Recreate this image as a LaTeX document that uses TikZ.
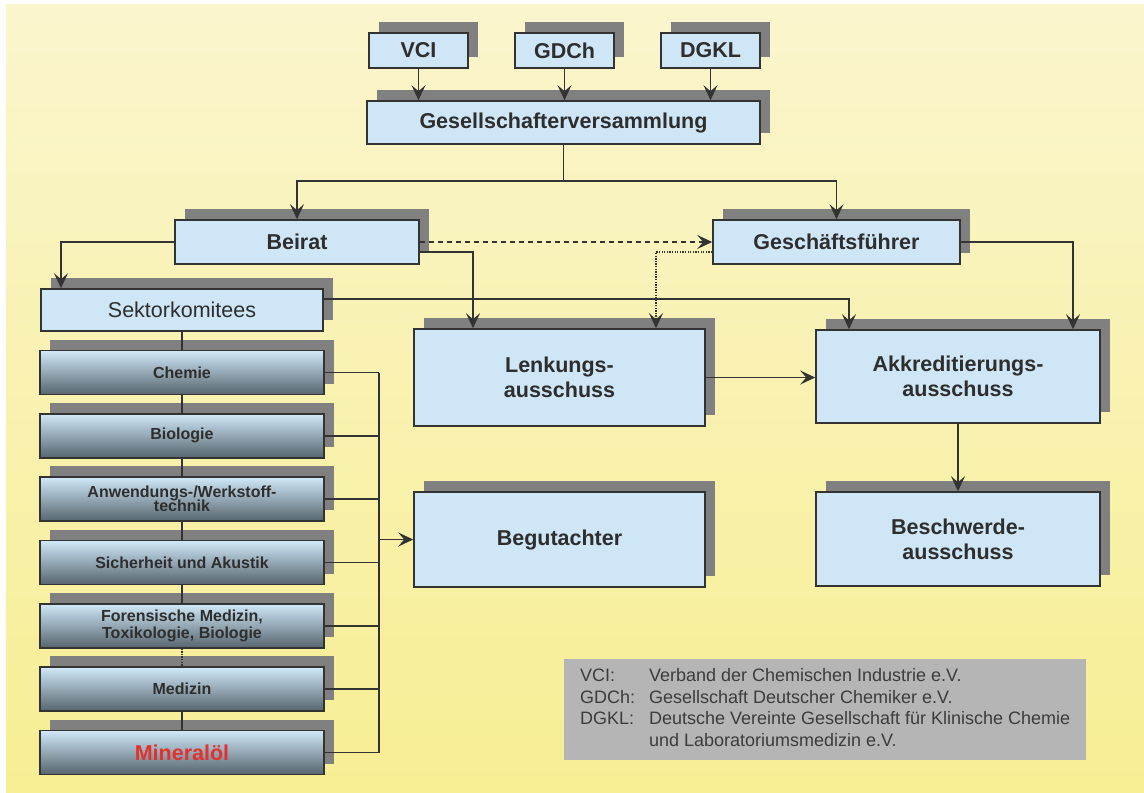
\documentclass[tikz,border=0pt]{standalone}
\usepackage{fontspec}
\setmainfont{Liberation Sans}
\usetikzlibrary{arrows.meta,positioning,shadows,calc}

\definecolor{bgtop}{RGB}{250,245,205}
\definecolor{bgbot}{RGB}{247,238,147}
\definecolor{boxblue}{RGB}{207,230,246}
\definecolor{sectop}{RGB}{208,232,248}
\definecolor{secmid}{RGB}{160,182,196}
\definecolor{secbot}{RGB}{86,100,110}
\definecolor{shadowgray}{RGB}{128,128,128}
\definecolor{framegray}{RGB}{51,51,51}
\definecolor{linegray}{RGB}{51,51,51}
\definecolor{textgray}{RGB}{46,46,46}
\definecolor{legendgray}{RGB}{180,181,180}
\definecolor{legendtext}{RGB}{60,60,60}
\definecolor{minered}{RGB}{229,49,43}

\begin{document}
\begin{tikzpicture}[x=1pt, y=-1pt,
    box/.style={draw=framegray, line width=1.6pt, fill=boxblue, text=textgray, inner sep=0pt, align=center,
      font=\bfseries\fontsize{21.5}{25}\selectfont,
      drop shadow={shadow xshift=10pt, shadow yshift=11pt, fill=shadowgray, opacity=1}},
    sector/.style={box, top color=sectop, middle color=secmid, bottom color=secbot, minimum width=284pt, minimum height=44pt,
      font=\bfseries\fontsize{16}{16}\selectfont},
    conn/.style={draw=linegray, line width=1.4pt},
    arr/.style={conn, -{Stealth[length=15pt, width=14pt, inset=6pt]}}]
  \useasboundingbox (0,0) rectangle (1144,793);
  \fill [top color=bgtop, bottom color=bgbot] (6,4) rectangle (1144,793);

  % members and board
  \node (vci) [box, minimum width=99pt, minimum height=35pt] at (418.5,50.5) {VCI};
  \node (gdch) [box, minimum width=99pt, minimum height=35pt] at (564.5,50.5) {GDCh};
  \node (dgkl) [box, minimum width=99pt, minimum height=35pt] at (710.5,50.5) {DGKL};
  \node (gv) [box, minimum width=393pt, minimum height=43pt] at (563.5,122.5) {Gesellschafterversammlung};
  \node (beirat) [box, minimum width=244pt, minimum height=44pt] at (297,242) {Beirat};
  \node (gf) [box, minimum width=247pt, minimum height=44pt] at (836.5,242) {Geschäftsführer};
  \node (sk) [box, minimum width=282pt, minimum height=42pt, font=\fontsize{21.5}{25}\selectfont] at (182,310) {Sektorkomitees};
  \node (lenk) [box, minimum width=291pt, minimum height=97pt] at (559.5,377.5) {Lenkungs-\\ausschuss};
  \node (akk) [box, minimum width=284pt, minimum height=93pt] at (958,376.5) {Akkreditierungs-\\ausschuss};
  \node (begut) [box, minimum width=291pt, minimum height=95pt] at (559.5,539.5) {Begutachter};
  \node (beschw) [box, minimum width=284pt, minimum height=94pt] at (958,539) {Beschwerde-\\ausschuss};

  % sector committees
  \foreach \txt [count=\i] in {Chemie, Biologie, {Anwendungs-/Werkstoff-\\[-2pt]technik}, Sicherheit und Akustik,
      {Forensische Medizin,\\[1pt]Toxikologie, Biologie}, Medizin,
      {\textcolor{minered}{\fontsize{21.5}{25}\selectfont Mineralöl}}}
    \node (s\i) [sector] at (182, 309.2+63.33*\i) {\txt};

  \node (legend) [fill=legendgray, minimum width=522pt, minimum height=101pt, inner sep=0pt, text=legendtext,
      font=\fontsize{18}{21.7}\selectfont, anchor=north west] at (564,659)
    {\begin{tabular}{@{}p{69pt}@{}l@{}}
      VCI: & Verband der Chemischen Industrie e.V.\\
      GDCh: & Gesellschaft Deutscher Chemiker e.V.\\
      DGKL: & Deutsche Vereinte Gesellschaft für Klinische Chemie\\
       & und Laboratoriumsmedizin e.V.
    \end{tabular}};

  % connectors
  \foreach \n in {vci,gdch,dgkl}
    \draw [arr] (\n.south) -- (\n.south |- gv.north);
  \coordinate (split) at (563.5,181);
  \draw [conn] (gv.south) -- (split);
  \draw [arr] (split) -| (beirat.north);
  \draw [arr] (split) -| (gf.north);
  \draw [arr] (beirat.west) -| ([xshift=-121pt]sk.north);
  \draw [arr, dash pattern=on 5pt off 4pt] (beirat.east) -- (gf.west);
  \draw [arr] ([yshift=-10pt]beirat.east) -| ([xshift=-86.5pt]lenk.north);
  \draw [arr, dash pattern=on 1.3pt off 1.3pt] ([yshift=-10pt]gf.west) -| ([xshift=96.5pt]lenk.north);
  \draw [arr] (gf.east) -| ([xshift=115pt]akk.north);
  \draw [arr] ([yshift=11pt]sk.east) -| ([xshift=-109pt]akk.north);
  \draw [arr] (lenk.east) -- (lenk.east -| akk.west);
  \draw [arr] (akk.south) -- (beschw.north);

  \draw [conn] (sk.south) -- (s1.north);
  \foreach \i/\j in {1/2,2/3,3/4,4/5,6/7}
    \draw [conn] (s\i.south) -- (s\j.north);
  \draw [conn, dash pattern=on 1.3pt off 1.3pt] (s5.south) -- (s6.north);
  \coordinate (bus) at (379,0);
  \foreach \i in {1,...,7}
    \draw [conn] (s\i.east) -- (s\i.east -| bus);
  \draw [conn] (s1.east -| bus) -- (s7.east -| bus);
  \draw [arr] (begut.west -| bus) -- (begut.west);
\end{tikzpicture}
\end{document}
